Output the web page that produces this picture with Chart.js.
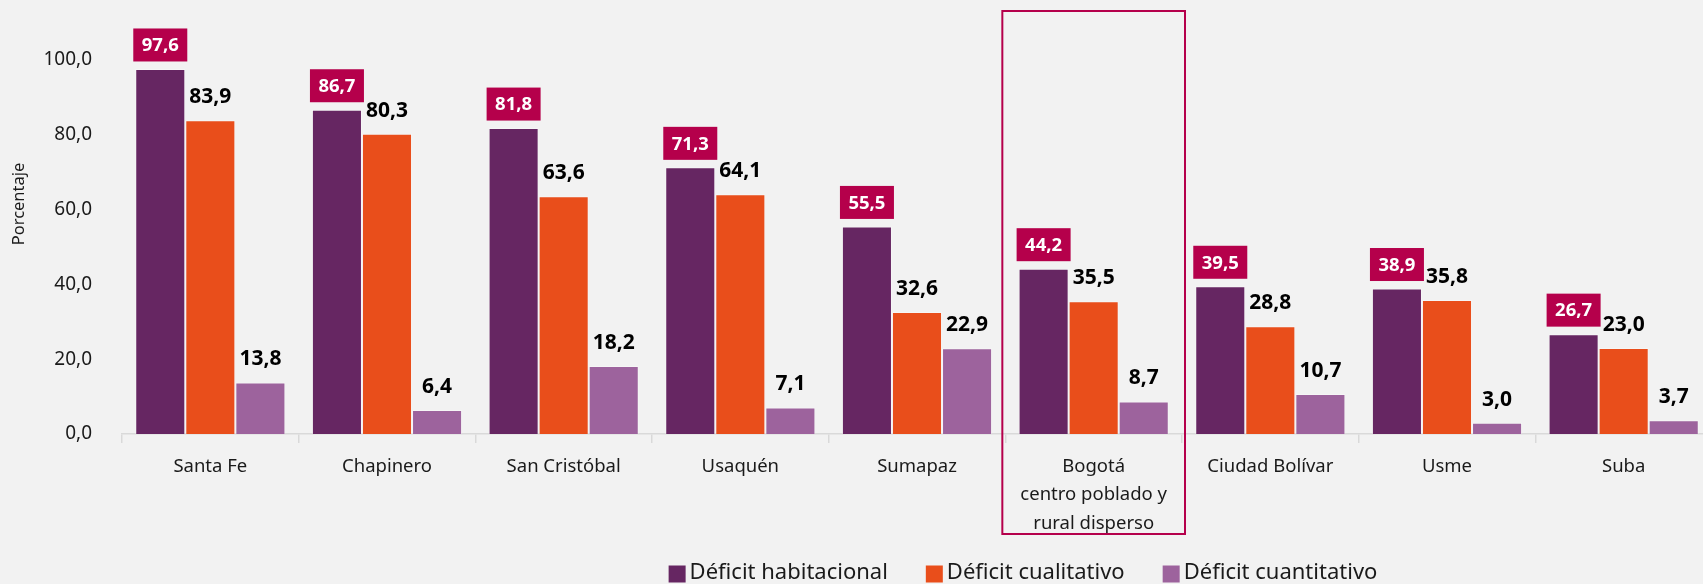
<!DOCTYPE html>
<html>
<head>
<meta charset="utf-8">
<title>Déficit habitacional por localidad</title>
<script src="https://cdn.jsdelivr.net/npm/chart.js@4.4.1/dist/chart.umd.min.js"></script>
<style>
    html, body { margin: 0; padding: 0; background: #F2F2F2; overflow: hidden; }
    #wrap { width: 1712px; height: 584px; position: relative; }
</style>
</head>
<body>
<div id="wrap"><canvas id="deficitChart"></canvas></div>
<script>
// categories (localidades)
const localidades = [
    'Santa Fe', 'Chapinero', 'San Cristóbal', 'Usaquén', 'Sumapaz',
    ['Bogotá', 'centro poblado y', 'rural disperso'],
    'Ciudad Bolívar', 'Usme', 'Suba'
];

// series values (%)
const deficitHabitacional = [97.6, 86.7, 81.8, 71.3, 55.5, 44.2, 39.5, 38.9, 26.7];
const deficitCualitativo  = [83.9, 80.3, 63.6, 64.1, 32.6, 35.5, 28.8, 35.8, 23.0];
const deficitCuantitativo = [13.8, 6.4, 18.2, 7.1, 22.9, 8.7, 10.7, 3.0, 3.7];

const seriesNames = ['Déficit habitacional', 'Déficit cualitativo', 'Déficit cuantitativo'];
const yTicks = [0, 20, 40, 60, 80, 100];
const highlightIndex = 5; // Bogotá rural

const FONT = "'Noto Sans', 'Open Sans', sans-serif";
const colors = ['#662662', '#E94E1B', '#9D639D'];
const accent = '#B5004B';

function fmt(v) {
    return v.toFixed(1).replace('.', ',');
}

// background fill
const bgPlugin = {
    id: 'bg',
    beforeDraw(chart) {
        const ctx = chart.ctx;
        ctx.save();
        ctx.fillStyle = '#F2F2F2';
        ctx.fillRect(0, 0, chart.width, chart.height);
        ctx.restore();
    }
};

// value labels above each bar; first series gets a coloured box
const labelPlugin = {
    id: 'valueLabels',
    afterDatasetsDraw(chart) {
        const ctx = chart.ctx;
        ctx.save();
        ctx.textAlign = 'center';
        ctx.textBaseline = 'middle';
        chart.data.datasets.forEach((ds, di) => {
            const meta = chart.getDatasetMeta(di);
            meta.data.forEach((bar, i) => {
                const txt = fmt(ds.data[i]);
                const cy = bar.y - 24;
                if (di === 0) {
                    const w = 54, h = 33;
                    ctx.fillStyle = accent;
                    ctx.fillRect(bar.x - w / 2, cy - h / 2, w, h);
                    ctx.fillStyle = '#FFFFFF';
                    ctx.font = 'bold 18.5px ' + FONT;
                } else {
                    ctx.fillStyle = '#000000';
                    ctx.font = 'bold 21px ' + FONT;
                }
                ctx.fillText(txt, bar.x, cy + 1);
            });
        });
        ctx.restore();
    }
};

// frame round the highlighted category, y title and legend
const extrasPlugin = {
    id: 'extras',
    afterDraw(chart) {
        const ctx = chart.ctx;
        const x = chart.scales.x;
        const area = chart.chartArea;
        const cat = (area.right - area.left) / localidades.length;
        const cx = x.getPixelForValue(highlightIndex);

        ctx.save();
        // highlight frame
        ctx.strokeStyle = accent;
        ctx.lineWidth = 2;
        ctx.strokeRect(cx - cat / 2 - 3, area.top - 49, cat + 6, 523);

        // y axis title
        ctx.fillStyle = '#1a1a1a';
        ctx.font = '16.5px ' + FONT;
        ctx.textAlign = 'center';
        ctx.textBaseline = 'middle';
        ctx.translate(19, area.top + (area.bottom - area.top) * 0.385);
        ctx.rotate(-Math.PI / 2);
        ctx.fillText('Porcentaje', 0, 0);
        ctx.restore();

        // legend
        ctx.save();
        ctx.font = '22px ' + FONT;
        ctx.textBaseline = 'middle';
        ctx.textAlign = 'left';
        const box = 17, gapBox = 4, gapItem = 38;
        const widths = seriesNames.map(n => ctx.measureText(n).width);
        const total = widths.reduce((a, b) => a + b, 0) + seriesNames.length * (box + gapBox) + gapItem * (seriesNames.length - 1);
        let lx = 1023 - total / 2;
        const ly = 573;
        seriesNames.forEach((n, i) => {
            ctx.fillStyle = colors[i];
            ctx.fillRect(lx, ly - box / 2 + 1, box, box);
            lx += box + gapBox;
            ctx.fillStyle = '#1a1a1a';
            ctx.fillText(n, lx, ly);
            lx += widths[i] + gapItem;
        });
        ctx.restore();
    }
};

document.addEventListener('DOMContentLoaded', function () {
    const ctx = document.getElementById('deficitChart').getContext('2d');
    new Chart(ctx, {
        type: 'bar',
        data: {
            labels: localidades,
            datasets: seriesNames.map((name, i) => ({
                label: name,
                data: [deficitHabitacional, deficitCualitativo, deficitCuantitativo][i],
                backgroundColor: colors[i],
                borderColor: 'rgba(255,255,255,0.35)',
                borderWidth: 1,
                categoryPercentage: 0.85,
                barPercentage: 1.0
            }))
        },
        options: {
            responsive: true,
            maintainAspectRatio: false,
            animation: false,
            layout: { padding: { top: 60, right: 0, left: 0, bottom: 0 } },
            plugins: {
                legend: { display: false },
                tooltip: { enabled: false }
            },
            scales: {
                x: {
                    grid: {
                        display: true,
                        drawOnChartArea: false,
                        drawTicks: true,
                        tickLength: 9,
                        color: '#D9D9D9',
                        lineWidth: 1.5,
                        offset: true
                    },
                    border: { display: true, color: '#D9D9D9', width: 1.5 },
                    ticks: {
                        color: '#1a1a1a',
                        font: { family: FONT, size: 18.5, lineHeight: 1.55 },
                        padding: 9,
                        maxRotation: 0,
                        autoSkip: false
                    },
                    afterFit(scale) { scale.height = 150; }
                },
                y: {
                    min: 0,
                    max: 100,
                    afterBuildTicks(scale) {
                        scale.ticks = yTicks.map(v => ({ value: v }));
                    },
                    grid: { display: false },
                    border: { display: false },
                    ticks: {
                        color: '#1a1a1a',
                        font: { family: FONT, size: 19 },
                        padding: 22,
                        callback: v => fmt(v)
                    },
                    afterFit(scale) { scale.width = 122; }
                }
            }
        },
        plugins: [bgPlugin, labelPlugin, extrasPlugin]
    });
});
</script>
</body>
</html>
